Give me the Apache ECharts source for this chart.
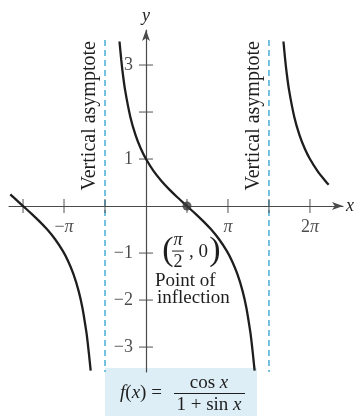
<!DOCTYPE html>
<html>
<head>
<meta charset="utf-8">
<script src="https://cdn.jsdelivr.net/npm/echarts@6/dist/echarts.min.js"></script>
<style>
  html, body { margin: 0; padding: 0; background: #fff; }
  #chart { width: 355px; height: 416px; }
</style>
</head>
<body>
<div id="chart"></div>
<script>
const PI = Math.PI;

// f(x) = cos x / (1 + sin x): sampled points on each branch
const leftBranch = [
  [-5.2, 0.249], [-5.083, 0.188], [-4.712, 0], [-4.383, -0.166], [-4.083, -0.326],
  [-3.783, -0.500], [-3.483, -0.706], [-3.183, -0.959], [-2.983, -1.172], [-2.783, -1.443],
  [-2.583, -1.804], [-2.433, -2.173], [-2.283, -2.687], [-2.233, -2.909], [-2.183, -3.163], [-2.12, -3.5]
];
const middleBranch = [
  [-1.015, 3.5], [-0.95, 3.118], [-0.9, 2.869], [-0.8, 2.465], [-0.6, 1.896], [-0.4, 1.509], [-0.2, 1.223],
  [0, 1], [0.3, 0.737], [0.6, 0.528], [0.9, 0.349], [1.2, 0.188], [1.571, 0],
  [1.9, -0.166], [2.2, -0.326], [2.5, -0.500], [2.8, -0.706], [3.1, -0.959], [3.3, -1.172],
  [3.5, -1.443], [3.7, -1.804], [3.85, -2.173], [4.0, -2.687], [4.05, -2.909], [4.1, -3.163], [4.163, -3.5]
];
const rightBranch = [
  [5.268, 3.5], [5.333, 3.118], [5.383, 2.869], [5.483, 2.465], [5.683, 1.896], [5.883, 1.509],
  [6.083, 1.223], [6.283, 1], [6.583, 0.737], [6.883, 0.528], [7.0, 0.454]
];

// vertical asymptotes x = -π/2 and x = 3π/2, and their drawn extent
const asymptoteX = [-PI / 2, 3 * PI / 2];
const asymptoteSpan = [3.53, -3.53];

// point of inflection (π/2, 0)
const inflection = [[PI / 2, 0]];

// tick marks and their labels
const xTicks = [-3 * PI / 2, -PI, -PI / 2, PI / 2, PI, 3 * PI / 2, 2 * PI];
const xLabelValues = [-PI, PI, 2 * PI];
const xLabelText = ['\u2212{i|\u03c0}', '{i|\u03c0}', '2{i|\u03c0}'];
const yTicks = [-3, -2, -1, 1, 2, 3];
const yLabelValues = [3, 1, -1, -2, -3];
const yLabelText = ['3', '1', '\u22121', '\u22122', '\u22123'];

const SERIF = '"Liberation Serif", "DejaVu Serif", serif';
const INK = '#1e1e1e';
const AXIS = '#4a4a4a';
const DASH = '#52b3da';

const chart = echarts.init(document.getElementById('chart'), null, { renderer: 'canvas' });

function pickLabel(values, texts, v) {
  const i = values.findIndex(t => Math.abs(t - v) < 1e-6);
  return i >= 0 ? texts[i] : '';
}

const curveStyle = { color: INK, width: 2.3 };
const italicRich = { i: { fontFamily: SERIF, fontStyle: 'italic', fontSize: 18, color: INK } };

chart.setOption({
  animation: false,
  backgroundColor: '#ffffff',
  grid: { left: 9, right: 12, top: 30, bottom: 44, containLabel: false, outerBoundsMode: 'none' },
  xAxis: {
    type: 'value', min: -5.25, max: 7.55,
    name: 'x', nameLocation: 'end', nameGap: 3,
    nameTextStyle: { fontFamily: SERIF, fontStyle: 'italic', fontSize: 18, color: INK, verticalAlign: 'middle', align: 'left' },
    axisLine: { onZero: true, symbol: ['none', 'arrow'], symbolSize: [6, 11], lineStyle: { color: AXIS, width: 1.2 } },
    axisTick: { show: false },
    splitLine: { show: false },
    axisLabel: { show: false }
  },
  yAxis: {
    type: 'value', min: -3.53, max: 3.745,
    name: 'y', nameLocation: 'end', nameGap: 5,
    nameTextStyle: { fontFamily: SERIF, fontStyle: 'italic', fontSize: 18, color: INK },
    axisLine: { onZero: true, symbol: ['none', 'arrow'], symbolSize: [6, 11], lineStyle: { color: AXIS, width: 1.2 } },
    axisTick: { show: false },
    splitLine: { show: false },
    axisLabel: { show: false }
  },
  series: [
    // asymptotes
    ...asymptoteX.map(a => ({
      type: 'line', data: asymptoteSpan.map(y => [a, y]), showSymbol: false, silent: true,
      lineStyle: { color: DASH, width: 1.6, type: [6, 4] }, z: 2
    })),
    // tick marks crossing the axes, with their labels
    {
      type: 'scatter', data: xTicks.map(v => [v, 0]), symbol: 'rect', symbolSize: [1.2, 14],
      itemStyle: { color: AXIS }, silent: true, z: 3,
      label: {
        show: true, position: 'bottom', distance: 5,
        fontFamily: SERIF, fontSize: 18, color: INK, rich: italicRich,
        formatter: p => pickLabel(xLabelValues, xLabelText, p.value[0])
      }
    },
    {
      type: 'scatter', data: yTicks.map(v => [0, v]), symbol: 'rect', symbolSize: [14, 1.2],
      itemStyle: { color: AXIS }, silent: true, z: 3,
      label: {
        show: true, position: 'left', distance: 6,
        fontFamily: SERIF, fontSize: 18, color: INK,
        formatter: p => pickLabel(yLabelValues, yLabelText, p.value[1])
      }
    },
    // the three branches
    ...[leftBranch, middleBranch, rightBranch].map(b => ({
      type: 'line', data: b, showSymbol: false, smooth: 0.3,
      lineStyle: curveStyle, z: 4
    })),
    // inflection point
    {
      type: 'scatter', data: inflection, symbol: 'circle', symbolSize: 9,
      itemStyle: { color: '#3a3a3a' }, z: 5
    }
  ]
});

// annotations placed from the data positions
const leftA = chart.convertToPixel({ gridIndex: 0 }, [asymptoteX[0], 1.92]);
const rightA = chart.convertToPixel({ gridIndex: 0 }, [asymptoteX[1], 1.92]);
const ip = chart.convertToPixel({ gridIndex: 0 }, inflection[0]);

const txt = (x, y, text, extra) => ({
  type: 'text', x, y,
  style: Object.assign({ text, fontFamily: SERIF, fontSize: 19, fill: INK, align: 'center', verticalAlign: 'middle' }, extra || {})
});
const italicFill = { i: { fontFamily: SERIF, fontStyle: 'italic', fontSize: 19, fill: INK } };

chart.setOption({
  graphic: [
    // asymptote captions, reading upward
    { type: 'text', x: leftA[0] - 15, y: leftA[1], rotation: PI / 2,
      style: { text: 'Vertical asymptote', fontFamily: SERIF, fontSize: 20, fill: INK, align: 'center', verticalAlign: 'middle' } },
    { type: 'text', x: rightA[0] - 15, y: rightA[1], rotation: PI / 2,
      style: { text: 'Vertical asymptote', fontFamily: SERIF, fontSize: 20, fill: INK, align: 'center', verticalAlign: 'middle' } },

    // (π/2, 0) with the fraction drawn stacked
    txt(ip[0] - 19, ip[1] + 45, '(', { fontSize: 34 }),
    txt(ip[0] - 9, ip[1] + 34, '\u03c0', { fontStyle: 'italic', fontSize: 18 }),
    { type: 'line', shape: { x1: ip[0] - 15, y1: ip[1] + 45, x2: ip[0] - 3, y2: ip[1] + 45 }, style: { stroke: INK, lineWidth: 1 } },
    txt(ip[0] - 9, ip[1] + 56, '2', { fontSize: 18 }),
    txt(ip[0] + 2, ip[1] + 46, ', 0', { fontSize: 19, align: 'left' }),
    txt(ip[0] + 28, ip[1] + 45, ')', { fontSize: 34 }),
    txt(ip[0] - 32, ip[1] + 75, 'Point of', { align: 'left' }),
    txt(ip[0] - 30, ip[1] + 92, 'inflection', { align: 'left' }),

    // formula caption
    { type: 'rect', shape: { x: 105, y: 368, width: 152, height: 48 }, style: { fill: '#ddeef6' }, z: -1 },
    txt(141, 393, '{i|f}({i|x}) =', { fontSize: 19, rich: italicFill }),
    txt(209, 383, 'cos {i|x}', { fontSize: 19, rich: italicFill }),
    { type: 'line', shape: { x1: 174, y1: 393.5, x2: 245, y2: 393.5 }, style: { stroke: INK, lineWidth: 1 } },
    txt(209, 405, '1 + sin {i|x}', { fontSize: 19, rich: italicFill })
  ]
});
</script>
</body>
</html>
